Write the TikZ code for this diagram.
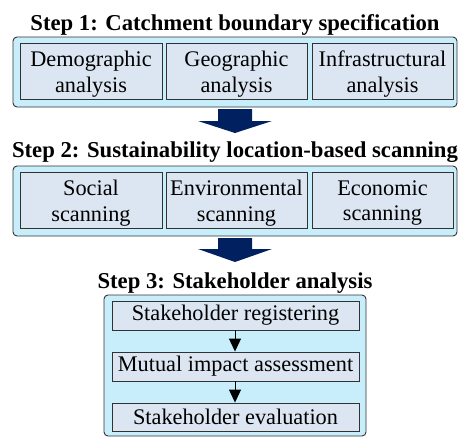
\documentclass[tikz,border=0pt]{standalone}
\usepackage{fontspec}
\setmainfont{Liberation Serif}
\usetikzlibrary{arrows.meta}
\definecolor{outerfill}{RGB}{200,238,252}
\definecolor{innerfill}{RGB}{220,230,242}
\definecolor{navy}{RGB}{0,32,96}
\definecolor{edge}{RGB}{50,50,50}
\tikzset{
  outerbox/.style={draw=edge, line width=0.9pt, fill=outerfill, rounded corners=4pt},
  innerbox/.style={draw=edge, line width=0.9pt, fill=innerfill, inner sep=0pt},
  boxtext/.style={align=center, inner sep=0pt, font=\fontsize{22.3}{25.5}\selectfont},
  titletext/.style={anchor=base, inner sep=0pt, font=\fontsize{22.7}{26}\selectfont\bfseries},
  bigarrow/.style={fill=navy, draw=none},
  smallarrow/.style={draw=black, line width=1pt, -{Triangle[length=13pt,width=12pt]}}
}
\begin{document}
\begin{tikzpicture}[x=1pt,y=-1pt]
\useasboundingbox (0,0) rectangle (458,437);
% Step 1
\node[titletext] (t1) at (235,30) {Step 1: Catchment boundary specification};
\draw[outerbox] (13,37) rectangle (457,107);
\node[innerbox, minimum width=142pt, minimum height=56pt] (b11) at (91,71) {};
\node[innerbox, minimum width=141pt, minimum height=56pt] (b12) at (236.5,71) {};
\node[innerbox, minimum width=141pt, minimum height=56pt] (b13) at (382.5,71) {};
\node[boxtext] (x11) at ([yshift=-3pt]b11.center) {Demographic\\analysis};
\node[boxtext] (x12) at ([yshift=-3pt]b12.center) {Geographic\\analysis};
\node[boxtext] (x13) at ([yshift=-3pt]b13.center) {Infrastructural\\analysis};
% arrow 1
\fill[bigarrow] (218,109) -- (252,109) -- (252,121) -- (272,121) -- (235,133) -- (198,121) -- (218,121) -- cycle;
% Step 2
\node[titletext] (t2) at (235,157) {Step 2: Sustainability location-based scanning};
\draw[outerbox] (13,166) rectangle (457,236);
\node[innerbox, minimum width=142pt, minimum height=56pt] (b21) at (91,200) {};
\node[innerbox, minimum width=141pt, minimum height=56pt] (b22) at (236.5,200) {};
\node[innerbox, minimum width=141pt, minimum height=56pt] (b23) at (382.5,200) {};
\node[boxtext] (x21) at ([yshift=-3pt]b21.center) {Social\\scanning};
\node[boxtext] (x22) at ([yshift=-3pt]b22.center) {Environmental\\scanning};
\node[boxtext] (x23) at ([yshift=-3pt]b23.center) {Economic\\scanning};
% arrow 2
\fill[bigarrow] (218,238) -- (252,238) -- (252,249) -- (272,249) -- (235,262) -- (198,249) -- (218,249) -- cycle;
% Step 3
\node[titletext] (t3) at (235,288) {Step 3: Stakeholder analysis};
\draw[outerbox] (104,295) rectangle (366,436);
\node[innerbox, boxtext, minimum width=247pt, minimum height=29pt] (s1) at (235.5,315.5) {Stakeholder registering};
\node[innerbox, boxtext, minimum width=247pt, minimum height=29pt] (s2) at (235.5,366.5) {Mutual impact assessment};
\node[innerbox, boxtext, minimum width=247pt, minimum height=28pt] (s3) at (235.5,417) {Stakeholder evaluation};
\draw[smallarrow] (s1.south -| 235,0) -- (s2.north -| 235,0);
\draw[smallarrow] (s2.south -| 235,0) -- (s3.north -| 235,0);
\end{tikzpicture}
\end{document}
